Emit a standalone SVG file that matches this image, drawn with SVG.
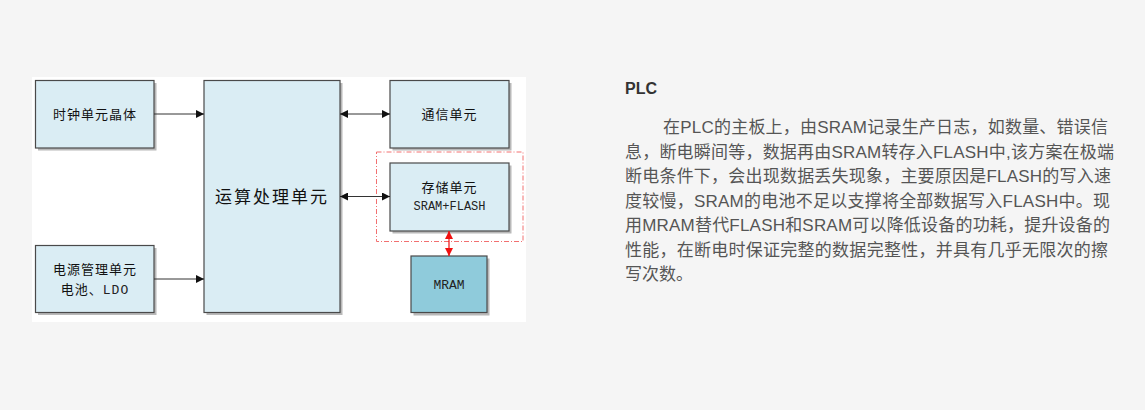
<svg xmlns="http://www.w3.org/2000/svg" width="1145" height="410" viewBox="0 0 1145 410">
<defs>
<style>
.box{fill:#daedf4;stroke:#4a4a4a;stroke-width:1.2}
.mram{fill:#8fcbdb;stroke:#4a4a4a;stroke-width:1.2}
.sh{fill:#8a8a8a;opacity:0.6}
.cn{font-family:"Noto Sans CJK SC",sans-serif;font-size:13px;fill:#111;letter-spacing:1px;text-anchor:middle}
.mono{font-family:"Liberation Mono","DejaVu Sans Mono",monospace;font-size:12px;fill:#222;font-weight:normal;text-anchor:middle}
.ln{stroke:#333;stroke-width:1;fill:none}
.red{stroke:#f01010;stroke-width:1.2;fill:none}
.para{font-family:"Liberation Sans","Noto Sans CJK SC",sans-serif;font-size:17px;fill:#555}
</style>
<marker id="ah" viewBox="0 0 10 10" refX="10" refY="5" markerWidth="8" markerHeight="8" orient="auto-start-reverse" markerUnits="userSpaceOnUse"><path d="M0,0 L10,5 L0,10 z" fill="#111"/></marker>
<marker id="ahr" viewBox="0 0 10 10" refX="10" refY="5" markerWidth="8" markerHeight="8" orient="auto-start-reverse" markerUnits="userSpaceOnUse"><path d="M0,0 L10,5 L0,10 z" fill="#f01010"/></marker>
</defs>
<rect x="0" y="0" width="1145" height="410" fill="#f5f5f5"/>
<rect x="32" y="77" width="494" height="245" fill="#ffffff"/>

<g id="dashed-group">
<rect x="376.5" y="152" width="146.5" height="89.5" fill="none" stroke="#f27070" stroke-width="1" stroke-dasharray="5,2,1,2"/>
</g>

<g id="clock">
<rect class="sh" x="38" y="83" width="118.5" height="67.5"/>
<rect class="box" x="35.5" y="80.5" width="118.5" height="67.5"/>
<text class="cn" x="95" y="119">时钟单元晶体</text>
</g>
<g id="power">
<rect class="sh" x="38" y="248" width="118.5" height="67"/>
<rect class="box" x="35.5" y="245.5" width="118.5" height="67"/>
<text class="cn" x="95" y="274">电源管理单元</text>
<text class="cn" x="95" y="294">电池、<tspan class="mono" style="font-size:13px">LDO</tspan></text>
</g>
<g id="cpu">
<rect class="sh" x="206.5" y="83" width="136" height="232"/>
<rect class="box" x="204" y="80.5" width="136" height="232"/>
<text class="cn" x="272" y="203" style="font-size:17px;letter-spacing:2px">运算处理单元</text>
</g>
<g id="comm">
<rect class="sh" x="392.5" y="83" width="119" height="67.5"/>
<rect class="box" x="390" y="80.5" width="119" height="67.5"/>
<text class="cn" x="449.5" y="119">通信单元</text>
</g>
<g id="storage">
<rect class="sh" x="392.5" y="165.5" width="119" height="68"/>
<rect class="box" x="390" y="163" width="119" height="68"/>
<text class="cn" x="449.5" y="192">存储单元</text>
<text class="mono" x="449.5" y="210">SRAM+FLASH</text>
</g>
<g id="mram">
<rect class="sh" x="413.5" y="258.5" width="76" height="57"/>
<rect class="mram" x="411" y="256" width="76" height="56.5"/>
<text class="mono" x="449" y="289" style="font-size:13px">MRAM</text>
</g>

<g id="connectors">
<line class="ln" x1="154" y1="114" x2="204" y2="114" marker-end="url(#ah)"/>
<line class="ln" x1="154" y1="279" x2="204" y2="279" marker-end="url(#ah)"/>
<line class="ln" x1="340" y1="114" x2="390" y2="114" marker-start="url(#ah)" marker-end="url(#ah)"/>
<line class="ln" x1="340" y1="196.5" x2="390" y2="196.5" marker-start="url(#ah)" marker-end="url(#ah)"/>
<line class="red" x1="449" y1="231" x2="449" y2="256" marker-start="url(#ahr)" marker-end="url(#ahr)"/>
</g>

<g id="description">
<text x="625" y="94" style="font-family:'Liberation Sans','Noto Sans CJK SC',sans-serif;font-size:16px;font-weight:bold;fill:#333">PLC</text>
<text class="para" x="663" y="133" textLength="445">在PLC的主板上，由SRAM记录生产日志，如数量、错误信</text>
<text class="para" x="625" y="157.5" textLength="489">息，断电瞬间等，数据再由SRAM转存入FLASH中,该方案在极端</text>
<text class="para" x="625" y="182" textLength="486">断电条件下，会出现数据丢失现象，主要原因是FLASH的写入速</text>
<text class="para" x="625" y="206.5" textLength="485">度较慢，SRAM的电池不足以支撑将全部数据写入FLASH中。现</text>
<text class="para" x="625" y="231" textLength="485">用MRAM替代FLASH和SRAM可以降低设备的功耗，提升设备的</text>
<text class="para" x="625" y="255.5" textLength="483">性能，在断电时保证完整的数据完整性，并具有几乎无限次的擦</text>
<text class="para" x="625" y="280">写次数。</text>
</g>
</svg>
